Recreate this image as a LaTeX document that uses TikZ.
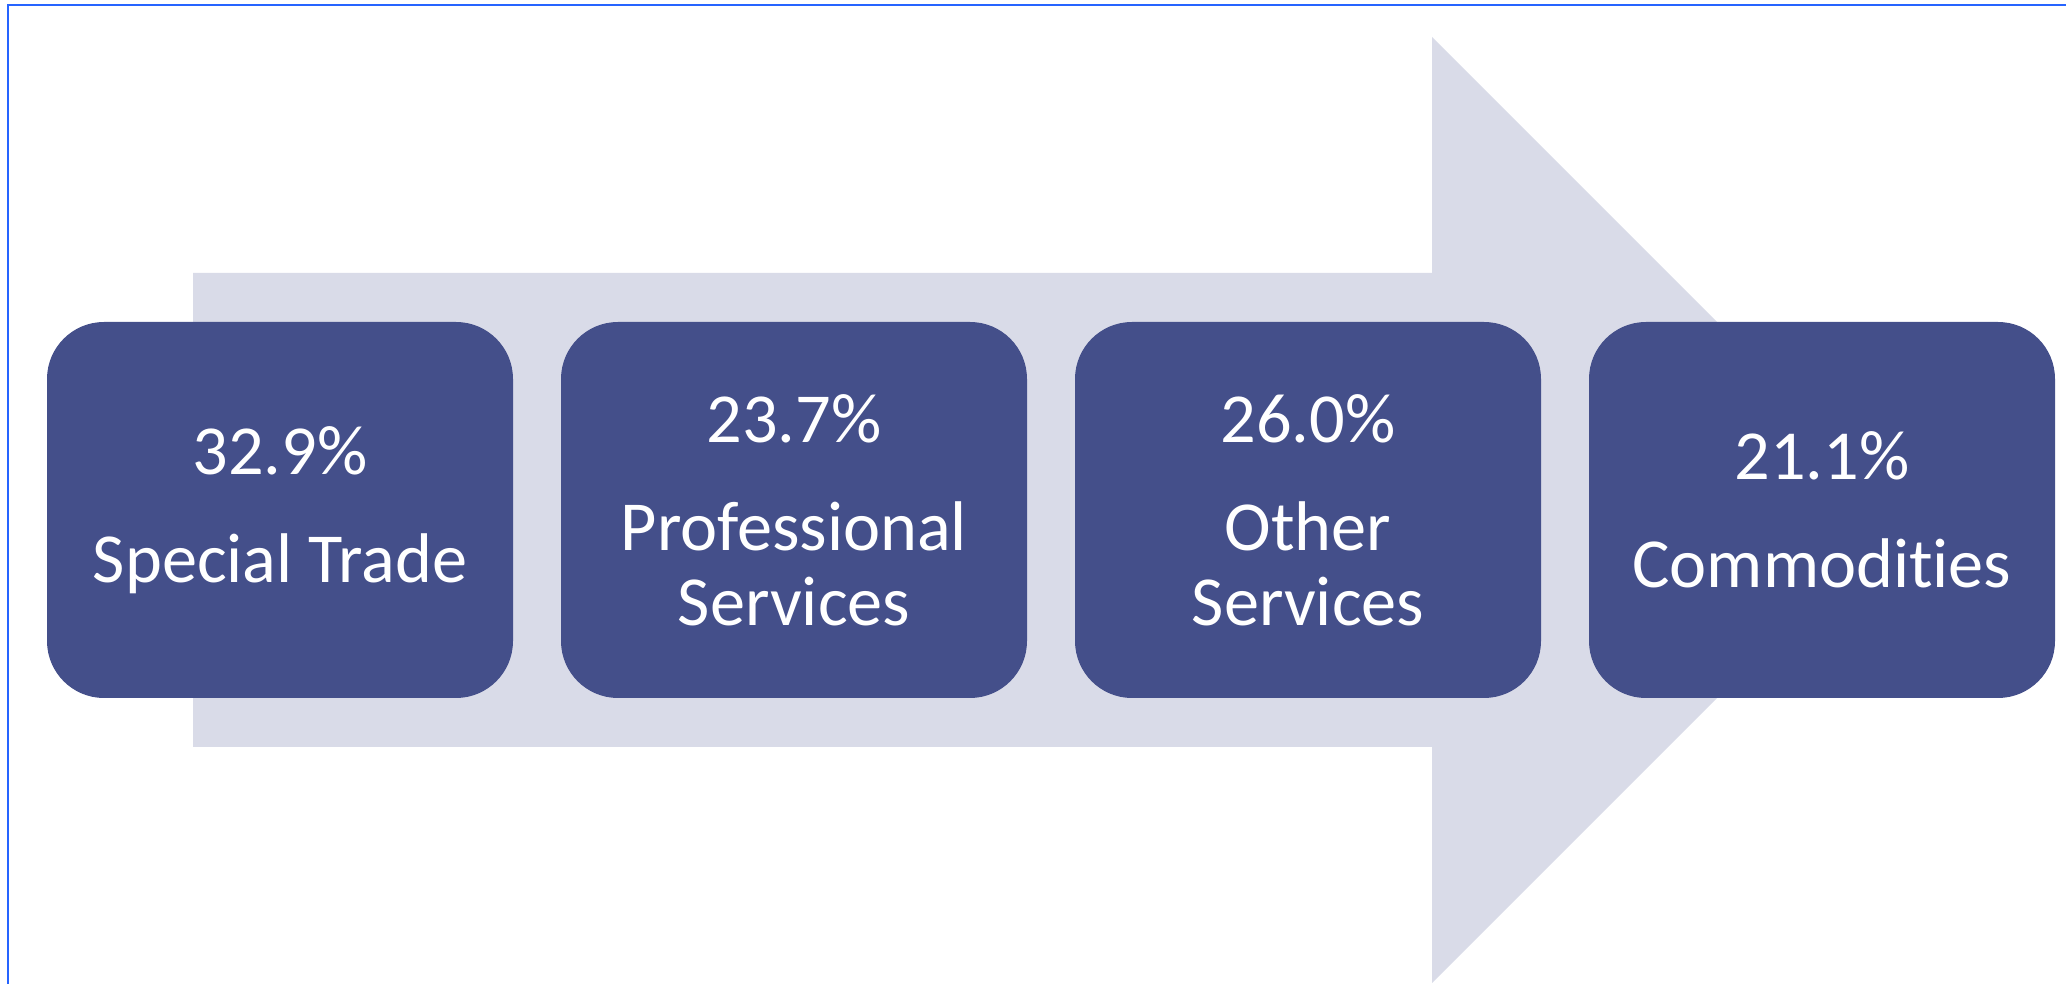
\documentclass[tikz,border=0pt]{standalone}
\usepackage{fontspec}
\setmainfont[Ligatures=NoCommon]{Carlito}
\usepackage{xcolor}
\definecolor{boxblue}{RGB}{68,79,138}
\definecolor{arrowgray}{RGB}{217,219,232}
\definecolor{frameblue}{RGB}{38,100,255}

\begin{document}
\begin{tikzpicture}[
    sharebox/.style = {rectangle,fill = boxblue,rounded corners = 0.57cm,minimum width = 4.66cm,minimum height = 3.76cm,inner sep = 0pt,text = white,align = center,font = \fontsize{20}{21.3}\selectfont}
    ]
            \useasboundingbox (0, 0) rectangle (20.66, 9.84);
            \draw[color = frameblue,line width = 0.6pt] (0.08, 0) -- (0.08, 9.79) -- (20.66, 9.79);

            \fill[arrowgray] (1.93, 2.37) -- (1.93, 7.11) -- (14.32, 7.11) -- (14.32, 9.47) -- (19.05, 4.74) -- (14.32, 0.01) -- (14.32, 2.37) -- cycle;

            \node[sharebox] (trade) at (2.80, 4.74) {32.9\%\\[9.4pt]Special Trade};
            \node[sharebox] (prof) at (7.94, 4.74) {23.7\%\\[9.4pt]Professional\\Services};
            \node[sharebox] (other) at (13.08, 4.74) {26.0\%\\[9.4pt]Other\\Services};
            \node[sharebox] (comm) at (18.22, 4.74) {21.1\%\\[9.4pt]Commodities};
        \end{tikzpicture}
\end{document}
